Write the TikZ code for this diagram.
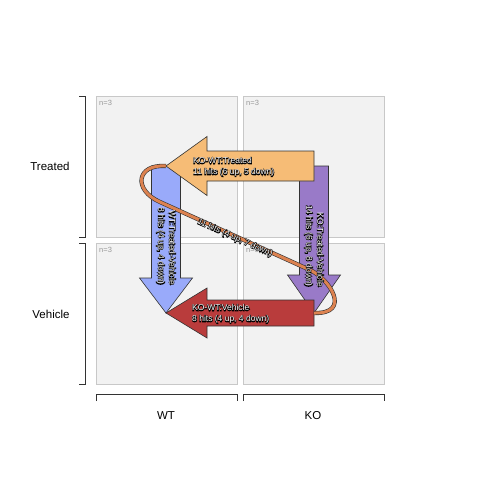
\documentclass[tikz,border=0pt]{standalone}
\usepackage{fontspec}
\setmainfont{Liberation Sans}
\usetikzlibrary{calc}

\definecolor{panelfill}{HTML}{F2F2F2}
\definecolor{paneledge}{HTML}{C8C8C8}
\definecolor{orangearr}{HTML}{F6BC76}
\definecolor{bluearr}{HTML}{99AAFA}
\definecolor{purplearr}{HTML}{997AC8}
\definecolor{redarr}{HTML}{B93C3C}
\definecolor{curvecol}{HTML}{DC8250}

% white text with a thin black outline: stroked copy under a white copy
\newcommand{\halo}[1]{\leavevmode%
  \rlap{\special{pdf:literal direct 1 Tr 1.1 w 0 G}#1\special{pdf:literal direct 0 Tr}}%
  \textcolor{white}{#1}}

% #1 from, #2 to, #3 body half width, #4 head half width, #5 head length, #6 colour
\newcommand{\fatarrow}[6]{%
  \coordinate (hb) at ($(#2)!#5!(#1)$);
  \filldraw[arrowline, fill=#6] ($(#1)!#3!90:(#2)$) -- ($(hb)!#3!-90:(#1)$)
    -- ($(hb)!#4!-90:(#1)$) -- (#2) -- ($(hb)!#4!90:(#1)$)
    -- ($(hb)!#3!90:(#1)$) -- ($(#1)!#3!-90:(#2)$) -- cycle;
}

\tikzset{
  panel/.style={fill=panelfill, draw=paneledge, line width=0.8pt},
  nlab/.style={font=\fontsize{7.5}{9}\selectfont, text=gray!80, inner sep=0pt},
  bracket/.style={draw=black!80, line width=0.8pt},
  axlab/.style={font=\fontsize{11.5}{13}\selectfont, inner sep=0pt},
  arrowline/.style={draw=black!80, line width=0.6pt},
  arrlab/.style={font=\fontsize{8.5}{11}\selectfont, inner sep=0pt}
}

\begin{document}
\begin{tikzpicture}[x=1pt, y=-1pt]
	\useasboundingbox (0,0) rectangle (480,480);

            % panels
            \foreach \px/\py in {96/96, 243/96, 96/243, 243/243}
            {
                \filldraw[panel] (\px,\py) rectangle ++(141,141);
                \node[nlab, anchor=west] (n\px\py) at (\px+3,\py+7) {n=3};
            }

            % brackets and axis labels
            \draw[bracket] (79,96) -- (85,96) -- (85,237) -- (79,237);
            \draw[bracket] (79,243) -- (85,243) -- (85,384) -- (79,384);
            \draw[bracket] (96,401) -- (96,394) -- (237,394) -- (237,401);
            \draw[bracket] (243,401) -- (243,394) -- (384,394) -- (384,401);
            \node[axlab] (treated) at (50,166) {Treated};
            \node[axlab] (vehicle) at (51,314) {Vehicle};
            \node[axlab] (wt) at (166,416) {WT};
            \node[axlab] (ko) at (313,416) {KO};

            % group corners
            \coordinate (wtT) at (166,166);
            \coordinate (koT) at (314,166);
            \coordinate (wtV) at (166,313);
            \coordinate (koV) at (314,313);

            \fatarrow{wtT}{wtV}{14.5pt}{26.5pt}{35pt}{bluearr}
            \fatarrow{koT}{koV}{14.5pt}{26.5pt}{38pt}{purplearr}
            \fatarrow{koV}{wtV}{13pt}{25pt}{41pt}{redarr}

            % diagonal contrast
            \draw[draw=black!80, line width=0.6pt, double=curvecol, double distance=3pt]
                (wtT) .. controls (136,164) and (133,190) .. (160,202)
                -- (310,270) .. controls (330,279) and (352,314) .. (koV);

            \fatarrow{koT}{wtT}{15pt}{29.5pt}{41pt}{orangearr}

            % labels
            \node[arrlab, anchor=west, align=left] (kowtT) at (193,167)
                {\halo{KO-WT:Treated}\\\halo{11 hits (6 up, 5 down)}};
            \node[arrlab, anchor=west, align=left] (kowtV) at (192,314)
                {\halo{KO-WT:Vehicle}\\\halo{8 hits (4 up, 4 down)}};
            \node[arrlab, rotate=-90, anchor=east, align=right] (wtTV) at (166,285)
                {\halo{WT:Treated-Vehicle}\\\halo{8 hits (4 up, 4 down)}};
            \node[arrlab, rotate=-90, anchor=east, align=right] (koTV) at (314,287)
                {\halo{KO:Treated-Vehicle}\\\halo{14 hits (6 up, 8 down)}};
            \node[arrlab, rotate=-24] (diag) at (235,238)
                {\halo{11 hits (4 up, 7 down)}};
        \end{tikzpicture}
\end{document}
